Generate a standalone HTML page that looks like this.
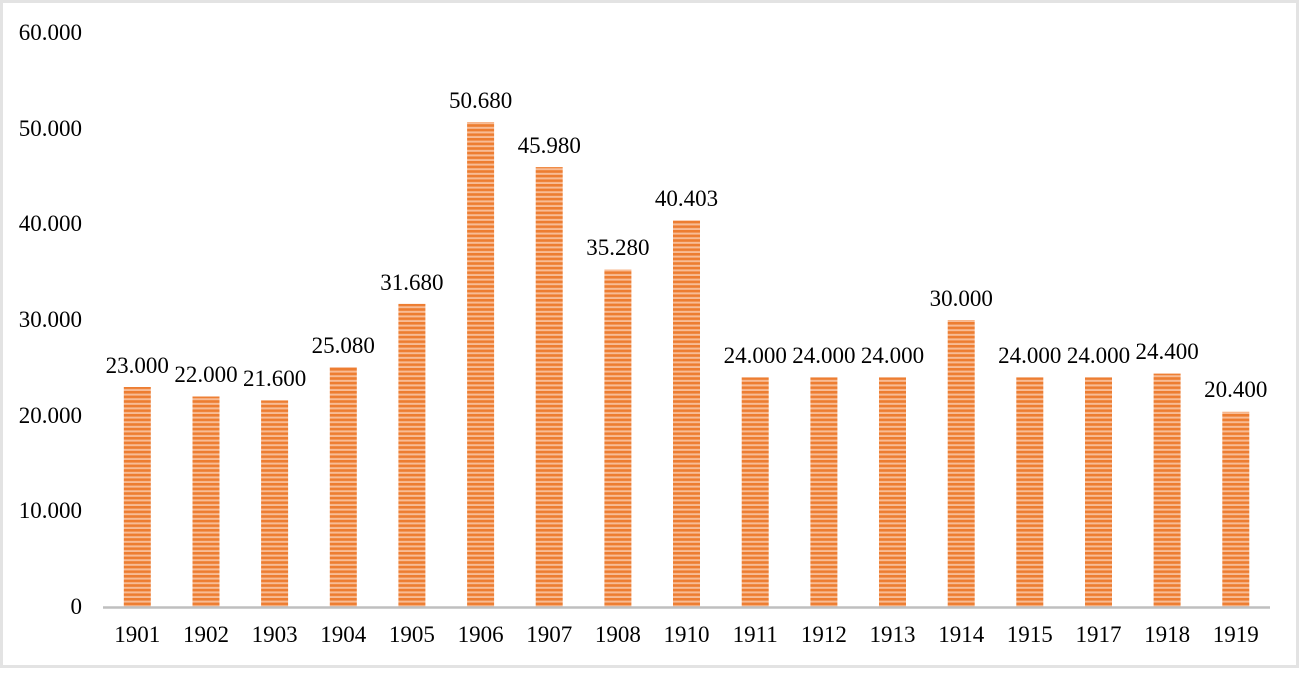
<!DOCTYPE html>
<html><head><meta charset="utf-8"><style>
html,body{margin:0;padding:0;background:#fff}
svg text{font-family:"Liberation Serif",serif;font-size:23px;fill:#000}
</style></head><body>
<svg width="1299" height="668" viewBox="0 0 1299 668" xmlns="http://www.w3.org/2000/svg">
<defs>
<pattern id="st" patternUnits="userSpaceOnUse" width="10" height="4.6">
<rect width="10" height="4.6" fill="#f8bc95"/>
<rect y="0" width="10" height="2.6" fill="#ed7d31"/>
</pattern>
</defs>
<rect x="1.5" y="1.5" width="1296" height="665" fill="#fff" stroke="#e3e3e3" stroke-width="3"/>
<g text-anchor="end">
<text x="82" y="40">60.000</text>
<text x="82" y="136">50.000</text>
<text x="82" y="231">40.000</text>
<text x="82" y="327">30.000</text>
<text x="82" y="423">20.000</text>
<text x="82" y="518">10.000</text>
<text x="82" y="614">0</text>
</g>
<g fill="url(#st)">
<rect x="123.8" y="387" width="27" height="220"/>
<rect x="192.5" y="396.5" width="27" height="210.5"/>
<rect x="261.1" y="400.4" width="27" height="206.6"/>
<rect x="329.8" y="367.1" width="27" height="239.9"/>
<rect x="398.4" y="303.9" width="27" height="303.1"/>
<rect x="467.1" y="122.1" width="27" height="484.9"/>
<rect x="535.7" y="167.1" width="27" height="439.9"/>
<rect x="604.4" y="269.5" width="27" height="337.5"/>
<rect x="673" y="220.5" width="27" height="386.5"/>
<rect x="741.7" y="377.4" width="27" height="229.6"/>
<rect x="810.4" y="377.4" width="27" height="229.6"/>
<rect x="879" y="377.4" width="27" height="229.6"/>
<rect x="947.7" y="320" width="27" height="287"/>
<rect x="1016.3" y="377.4" width="27" height="229.6"/>
<rect x="1085" y="377.4" width="27" height="229.6"/>
<rect x="1153.6" y="373.6" width="27" height="233.4"/>
<rect x="1222.3" y="411.8" width="27" height="195.2"/>
</g>
<line x1="103" y1="607.5" x2="1270" y2="607.5" stroke="#bfbfbf" stroke-width="2.5"/>
<g text-anchor="middle">
<text x="137.3" y="373">23.000</text>
<text x="206" y="382">22.000</text>
<text x="274.6" y="386">21.600</text>
<text x="343.3" y="353">25.080</text>
<text x="411.9" y="290">31.680</text>
<text x="480.6" y="108">50.680</text>
<text x="549.2" y="153">45.980</text>
<text x="617.9" y="255">35.280</text>
<text x="686.5" y="206">40.403</text>
<text x="755.2" y="363">24.000</text>
<text x="823.9" y="363">24.000</text>
<text x="892.5" y="363">24.000</text>
<text x="961.2" y="306">30.000</text>
<text x="1029.8" y="363">24.000</text>
<text x="1098.5" y="363">24.000</text>
<text x="1167.1" y="359">24.400</text>
<text x="1235.8" y="397">20.400</text>
</g>
<g text-anchor="middle">
<text x="137.3" y="642">1901</text>
<text x="206" y="642">1902</text>
<text x="274.6" y="642">1903</text>
<text x="343.3" y="642">1904</text>
<text x="411.9" y="642">1905</text>
<text x="480.6" y="642">1906</text>
<text x="549.2" y="642">1907</text>
<text x="617.9" y="642">1908</text>
<text x="686.5" y="642">1910</text>
<text x="755.2" y="642">1911</text>
<text x="823.9" y="642">1912</text>
<text x="892.5" y="642">1913</text>
<text x="961.2" y="642">1914</text>
<text x="1029.8" y="642">1915</text>
<text x="1098.5" y="642">1917</text>
<text x="1167.1" y="642">1918</text>
<text x="1235.8" y="642">1919</text>
</g>
</svg>
</body></html>
